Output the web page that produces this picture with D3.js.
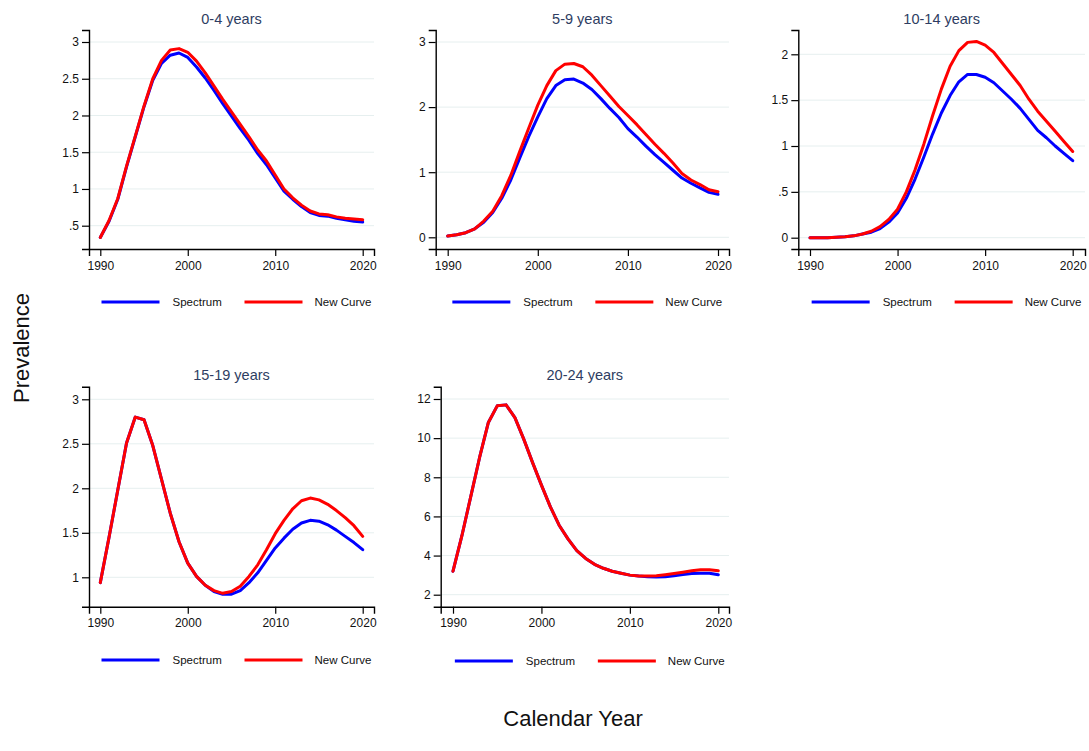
<!DOCTYPE html>
<html><head><meta charset="utf-8">
<script src="https://cdn.jsdelivr.net/npm/d3@7"></script>
<style>
body{margin:0;background:#fff;}
svg{display:block;font-family:"Liberation Sans",Arial,sans-serif;}
</style></head>
<body>
<svg id="chart" width="1089" height="751"></svg>
<script>
// ---------- DATA ----------
const years = d3.range(1990, 2021);
const panelTitles = ["0-4 years", "5-9 years", "10-14 years", "15-19 years", "20-24 years"];
const seriesNames = ["Spectrum", "New Curve"];
const xTickValues = [1990, 2000, 2010, 2020];

const spectrum_0_4 = [0.34,0.56,0.86,1.30,1.71,2.12,2.48,2.71,2.82,2.85,2.79,2.66,2.51,2.34,2.16,1.99,1.82,1.66,1.48,1.33,1.15,0.97,0.86,0.76,0.68,0.64,0.63,0.60,0.58,0.56,0.55];
const newCurve_0_4 = [0.34,0.57,0.87,1.31,1.72,2.13,2.50,2.75,2.89,2.91,2.86,2.74,2.58,2.40,2.22,2.05,1.88,1.71,1.53,1.38,1.19,1.00,0.88,0.78,0.70,0.66,0.65,0.62,0.60,0.59,0.58];

const spectrum_5_9 = [0.02,0.04,0.07,0.13,0.23,0.38,0.60,0.88,1.22,1.55,1.85,2.13,2.33,2.42,2.43,2.37,2.27,2.13,1.98,1.84,1.67,1.54,1.40,1.27,1.15,1.03,0.91,0.83,0.76,0.69,0.66];
const newCurve_5_9 = [0.02,0.04,0.07,0.13,0.25,0.40,0.64,0.95,1.32,1.68,2.03,2.33,2.56,2.66,2.67,2.62,2.49,2.33,2.17,2.01,1.87,1.73,1.58,1.43,1.29,1.14,0.98,0.88,0.81,0.73,0.70];

const spectrum_10_14 = [0,0,0,0.005,0.01,0.02,0.04,0.06,0.10,0.17,0.27,0.43,0.64,0.88,1.13,1.36,1.55,1.70,1.78,1.78,1.75,1.69,1.60,1.51,1.41,1.29,1.17,1.09,1.00,0.92,0.84];
const newCurve_10_14 = [0,0,0,0.005,0.01,0.02,0.04,0.07,0.12,0.20,0.31,0.50,0.74,1.02,1.33,1.62,1.87,2.04,2.13,2.14,2.10,2.02,1.90,1.78,1.66,1.51,1.38,1.27,1.16,1.05,0.94];

const spectrum_15_19 = [0.94,1.45,1.98,2.51,2.80,2.77,2.48,2.10,1.72,1.40,1.16,1.01,0.91,0.84,0.81,0.81,0.85,0.94,1.05,1.19,1.33,1.44,1.54,1.61,1.64,1.63,1.59,1.53,1.46,1.39,1.31];
const newCurve_15_19 = [0.94,1.45,1.98,2.51,2.80,2.77,2.48,2.10,1.72,1.40,1.16,1.01,0.91,0.85,0.82,0.84,0.90,1.01,1.14,1.31,1.49,1.64,1.77,1.86,1.89,1.87,1.82,1.75,1.67,1.58,1.46];

const spectrum_20_24 = [3.20,5.00,7.00,9.00,10.80,11.65,11.70,11.05,9.95,8.75,7.60,6.50,5.55,4.85,4.25,3.85,3.55,3.35,3.20,3.10,3.00,2.95,2.92,2.90,2.92,2.97,3.03,3.08,3.10,3.10,3.02];
const newCurve_20_24 = [3.20,5.00,7.00,9.00,10.80,11.65,11.70,11.05,9.95,8.75,7.60,6.50,5.55,4.85,4.25,3.85,3.55,3.35,3.20,3.10,3.00,2.95,2.95,2.97,3.02,3.08,3.15,3.22,3.28,3.28,3.22];

const yTicks_0_4 = [0.5,1,1.5,2,2.5,3];
const yTicks_5_9 = [0,1,2,3];
const yTicks_10_14 = [0,0.5,1,1.5,2];
const yTicks_15_19 = [1,1.5,2,2.5,3];
const yTicks_20_24 = [2,4,6,8,10,12];

const spectrumSeries = [spectrum_0_4, spectrum_5_9, spectrum_10_14, spectrum_15_19, spectrum_20_24];
const newCurveSeries = [newCurve_0_4, newCurve_5_9, newCurve_10_14, newCurve_15_19, newCurve_20_24];
const yTickSets = [yTicks_0_4, yTicks_5_9, yTicks_10_14, yTicks_15_19, yTicks_20_24];

// ---------- LAYOUT ----------
// left/right/top/bottom: plot frame; xa/xb: pixel of 1990 / 2020; ya/yb: pixel of first / last y tick
const layout = [
  {left:89,   right:374,  top:30,    bottom:249,   xa:100.3, xb:362.7,  ya:225.7, yb:42,    legY:302},
  {left:435.7,right:729,  top:30,    bottom:249,   xa:447.7, xb:718,    ya:237.3, yb:42,    legY:302},
  {left:798.3,right:1085, top:30,    bottom:249,   xa:810,   xb:1072.7, ya:237.7, yb:54.3,  legY:302},
  {left:89,   right:374,  top:386.7, bottom:606.7, xa:100.3, xb:362.7,  ya:577.3, yb:399.3, legY:660},
  {left:440.7,right:729,  top:386.7, bottom:606.7, xa:453,   xb:718.3,  ya:594.7, yb:399,   legY:661}
];
const colors = ["#0000ff", "#ff0000"];
const titleColor = "#2e3d62";
const fmtTick = v => { const s = String(v); return s.startsWith("0.") ? s.slice(1) : s; };

const svg = d3.select("#chart");

layout.forEach((L, i) => {
  const ticks = yTickSets[i];
  const x = d3.scaleLinear().domain([1990, 2020]).range([L.xa, L.xb]);
  x.domain([x.invert(L.left), x.invert(L.right)]).range([L.left, L.right]);
  const y = d3.scaleLinear().domain([ticks[0], ticks[ticks.length-1]]).range([L.ya, L.yb]);
  y.domain([y.invert(L.bottom), y.invert(L.top)]).range([L.bottom, L.top]);

  const g = svg.append("g");

  // gridlines
  g.append("g").selectAll("line").data(ticks).join("line")
    .attr("x1", L.left).attr("x2", L.right)
    .attr("y1", d => y(d)).attr("y2", d => y(d))
    .attr("stroke", "#e6efef").attr("stroke-width", 1);

  // lines
  const line = d3.line().x((d, k) => x(years[k])).y(d => y(d));
  [spectrumSeries[i], newCurveSeries[i]].forEach((s, j) => {
    g.append("path").datum(s).attr("d", line)
      .attr("fill", "none").attr("stroke", colors[j])
      .attr("stroke-width", 3).attr("stroke-linejoin", "round").attr("stroke-linecap", "round");
  });

  // axes
  const ax = g.append("g").attr("transform", `translate(0,${L.bottom})`)
    .call(d3.axisBottom(x).tickValues(xTickValues).tickFormat(d3.format("d")).tickSizeOuter(0).tickSize(7).tickPadding(5));
  const ay = g.append("g").attr("transform", `translate(${L.left},0)`)
    .call(d3.axisLeft(y).tickValues(ticks).tickFormat(fmtTick).tickSizeOuter(0).tickSize(7).tickPadding(3));
  [ax, ay].forEach(a => {
    a.selectAll("path.domain").attr("stroke", "#000").attr("stroke-width", 1.4);
    a.selectAll(".tick line").attr("stroke", "#000").attr("stroke-width", 1.2);
    a.selectAll(".tick text").attr("fill", "#111").style("font-size", "12px")
      .style("font-family", '"Liberation Sans",Arial,sans-serif');
  });

  // title
  const cx = (L.left + L.right) / 2;
  g.append("text").attr("x", cx).attr("y", L.top - 6.5)
    .attr("text-anchor", "middle").attr("fill", titleColor)
    .style("font-size", "14.5px").text(panelTitles[i]);

  // legend
  const legItems = [{x0:-130, x1:-72, tx:-59}, {x0:13, x1:71, tx:83}];
  legItems.forEach((it, j) => {
    g.append("line").attr("x1", cx + it.x0).attr("x2", cx + it.x1)
      .attr("y1", L.legY).attr("y2", L.legY)
      .attr("stroke", colors[j]).attr("stroke-width", 3);
    g.append("text").attr("x", cx + it.tx).attr("y", L.legY + 4)
      .attr("fill", "#111").style("font-size", "11.5px").text(seriesNames[j]);
  });
});

// global axis titles
svg.append("text").attr("transform", "translate(29,348) rotate(-90)")
  .attr("text-anchor", "middle").attr("fill", "#111").style("font-size", "22px").text("Prevalence");
svg.append("text").attr("x", 573).attr("y", 726)
  .attr("text-anchor", "middle").attr("fill", "#111").style("font-size", "22px").text("Calendar Year");
</script>
</body></html>
